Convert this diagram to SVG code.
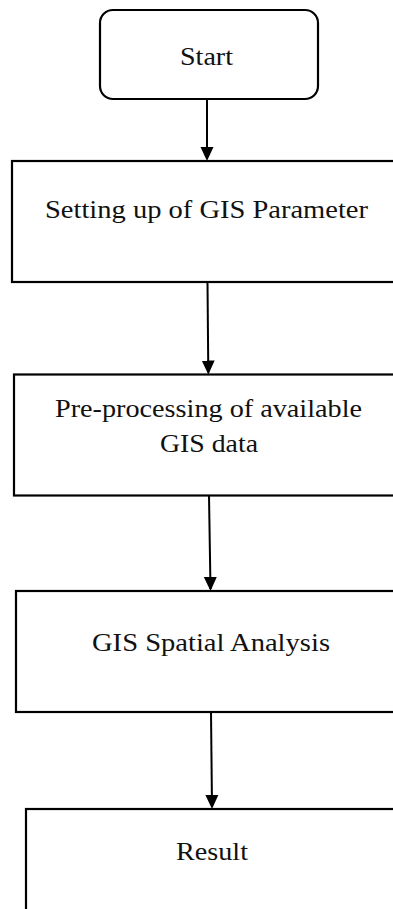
<svg xmlns="http://www.w3.org/2000/svg" width="393" height="909" viewBox="0 0 393 909">
  <style>
    .box { fill: #ffffff; stroke: #000000; stroke-width: 2.2; }
    .lbl { font-family: "Liberation Serif", "Times New Roman", serif; font-size: 26px; fill: #111111; text-anchor: middle; }
    .conn { stroke: #000000; stroke-width: 2; fill: none; }
  </style>
  <defs>
    <marker id="arrow" markerUnits="userSpaceOnUse" markerWidth="14" markerHeight="14" refX="12" refY="7" orient="auto">
      <path d="M0,0.5 L14,7 L0,13.5 z" fill="#000000"/>
    </marker>
  </defs>
  <rect width="393" height="909" fill="#ffffff"/>
  <g id="start">
    <rect class="box" x="100" y="10" width="218" height="89" rx="13" ry="13"/>
    <text class="lbl" x="206.5" y="65" textLength="53" lengthAdjust="spacingAndGlyphs">Start</text>
  </g>
  <g id="setup">
    <rect class="box" x="12" y="161" width="400" height="121"/>
    <text class="lbl" x="206.5" y="218" textLength="323" lengthAdjust="spacingAndGlyphs">Setting up of GIS Parameter</text>
  </g>
  <g id="preprocess">
    <rect class="box" x="14" y="374.5" width="400" height="121"/>
    <text class="lbl" x="208.5" y="416.5" textLength="307" lengthAdjust="spacingAndGlyphs">Pre-processing of available</text>
    <text class="lbl" x="209" y="451.5" textLength="98" lengthAdjust="spacingAndGlyphs">GIS data</text>
  </g>
  <g id="analysis">
    <rect class="box" x="16" y="591" width="400" height="121"/>
    <text class="lbl" x="211" y="650.5" textLength="238" lengthAdjust="spacingAndGlyphs">GIS Spatial Analysis</text>
  </g>
  <g id="result">
    <rect class="box" x="26" y="809" width="400" height="150"/>
    <text class="lbl" x="212" y="860" textLength="72" lengthAdjust="spacingAndGlyphs">Result</text>
  </g>
  <g id="connectors">
    <line class="conn" x1="207" y1="99" x2="207" y2="159" marker-end="url(#arrow)"/>
    <line class="conn" x1="207.5" y1="282" x2="208.3" y2="372.5" marker-end="url(#arrow)"/>
    <line class="conn" x1="209" y1="495.5" x2="210.5" y2="589" marker-end="url(#arrow)"/>
    <line class="conn" x1="211" y1="712" x2="212" y2="807" marker-end="url(#arrow)"/>
  </g>
</svg>
